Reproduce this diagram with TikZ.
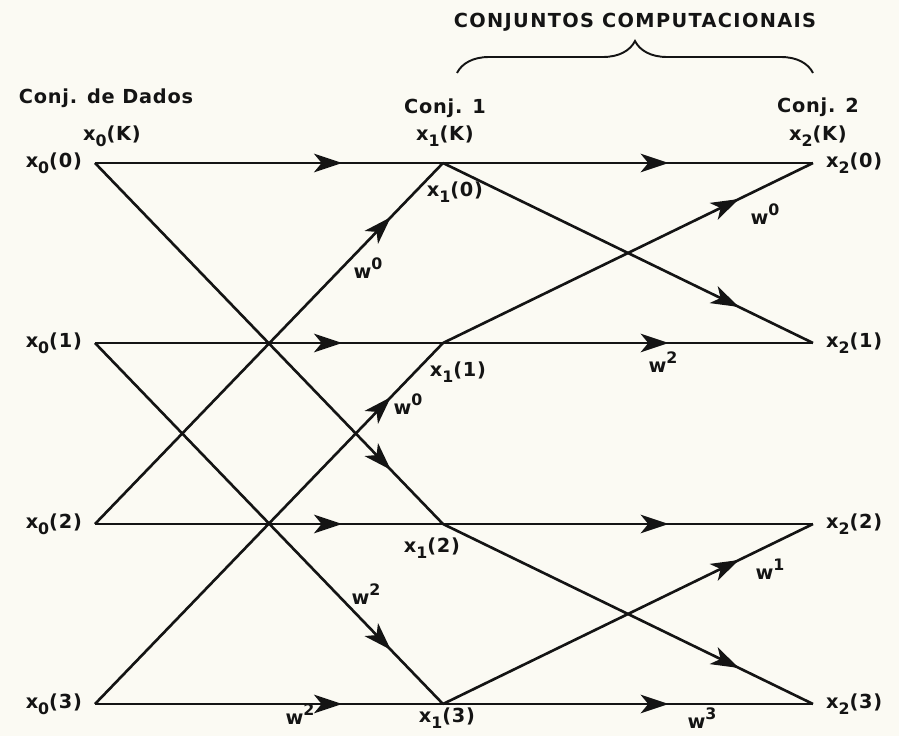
\documentclass[tikz,border=0pt]{standalone}
\usepackage{fontspec}
\setmainfont[LetterSpace=4]{DejaVu Sans}
\usetikzlibrary{arrows.meta,decorations.markings,decorations.pathreplacing,positioning}

\definecolor{paper}{RGB}{251,250,243}
\definecolor{ink}{RGB}{20,20,20}

% x_k(n) and w^n as they are lettered in the figure
\newcommand{\xk}[2]{x\raisebox{-0.55ex}{\small #1}(#2)}
\newcommand{\wexp}[1]{w\raisebox{0.9ex}{\small #1}}

\tikzset{
  flow/.style={line width=1.5pt, draw=ink, postaction={decorate},
    decoration={markings, mark=at position #1 with {\arrow[ink]{Stealth[length=5.6mm,width=3.7mm,inset=1.5mm]}}}},
  lbl/.style={font=\fontsize{11}{13}\selectfont\bfseries, text=ink, inner sep=1pt},
}

\begin{document}
\begin{tikzpicture}[x=0.02cm,y=-0.02cm]
    \fill[paper] (0,0) rectangle (899,736);
    \useasboundingbox (0,0) rectangle (899,736);

    % Points of the three sets
    \foreach \i/\y in {0/163,1/343,2/524,3/704}{
        \coordinate (a\i) at (95,\y);
        \coordinate (b\i) at (443,\y);
        \coordinate (c\i) at (813,\y);
    }

    % Straight branches
    \foreach \i in {0,...,3}{
        \draw[flow=0.71] (a\i) -- (b\i);
        \draw[flow=0.61] (b\i) -- (c\i);
    }

    % Crossing branches - first set
    \draw[flow=0.85] (a0) -- (b2);
    \draw[flow=0.85] (a2) -- (b0);
    \draw[flow=0.85] (a1) -- (b3);
    \draw[flow=0.85] (a3) -- (b1);

    % Crossing branches - second set
    \draw[flow=0.8] (b0) -- (c1);
    \draw[flow=0.8] (b1) -- (c0);
    \draw[flow=0.8] (b2) -- (c3);
    \draw[flow=0.8] (b3) -- (c2);

    % Labels of the points
    \foreach \i in {0,...,3}{
        \node[lbl, left=0.22cm of a\i] (la\i) {\xk{0}{\i}};
        \node[lbl, right=0.22cm of c\i] (lc\i) {\xk{2}{\i}};
    }
    \node[lbl] (lb0) at (455,192) {\xk{1}{0}};
    \node[lbl] (lb1) at (458,372) {\xk{1}{1}};
    \node[lbl] (lb2) at (432,548) {\xk{1}{2}};
    \node[lbl] (lb3) at (447,718) {\xk{1}{3}};

    % Weights
    \node[lbl] (w1) at (368,268) {\wexp{0}};
    \node[lbl] (w2) at (408,404) {\wexp{0}};
    \node[lbl] (w3) at (366,594) {\wexp{2}};
    \node[lbl] (w4) at (300,714) {\wexp{2}};
    \node[lbl] (w5) at (765,214) {\wexp{0}};
    \node[lbl] (w6) at (663,362) {\wexp{2}};
    \node[lbl] (w7) at (770,569) {\wexp{1}};
    \node[lbl] (w8) at (702,718) {\wexp{3}};

    % Column headings
    \node[lbl] (dados) at (106,98) {Conj. de Dados};
    \node[lbl] (k0) at (112,136) {\xk{0}{K}};
    \node[lbl] (conj1) at (445,108) {Conj. 1};
    \node[lbl] (k1) at (445,136) {\xk{1}{K}};
    \node[lbl] (conj2) at (818,107) {Conj. 2};
    \node[lbl] (k2) at (818,136) {\xk{2}{K}};

    % Brace over the computational sets
    \coordinate (brl) at (457,73);
    \coordinate (brr) at (813,73);
    \draw[ink, line width=1.1pt, decorate, decoration={brace, amplitude=0.64cm}] (brl) -- (brr);
    \node[lbl, font=\fontsize{11}{13}\selectfont\bfseries\addfontfeature{LetterSpace=7}] (comp) at (635,22) {CONJUNTOS COMPUTACIONAIS};
\end{tikzpicture}
\end{document}
